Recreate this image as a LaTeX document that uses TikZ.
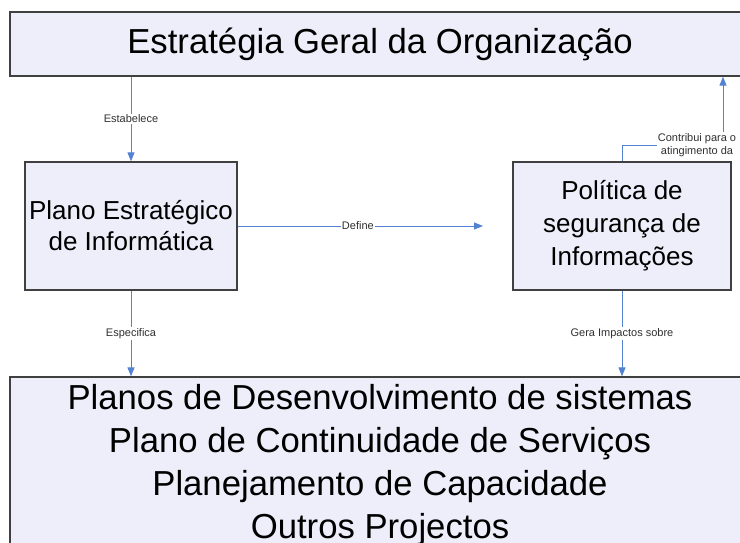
\documentclass[tikz,border=0pt]{standalone}
\usepackage{fontspec}
\setmainfont{Liberation Sans}
\usetikzlibrary{arrows.meta}
\definecolor{boxfill}{HTML}{EEEEFA}
\definecolor{boxline}{HTML}{404040}
\definecolor{arrblue}{HTML}{5382D2}
\definecolor{labgray}{HTML}{303030}
\begin{document}
\begin{tikzpicture}[x=1pt,y=-1pt,
  box/.style={draw=boxline,line width=1.3pt,fill=boxfill,align=center,inner sep=0pt},
  conn/.style={draw=arrblue,line width=0.9pt},
  arr/.style={conn,-{Triangle[length=9pt,width=7pt]}},
  lab/.style={font=\fontsize{11}{13.5}\selectfont,text=labgray,fill=white,inner sep=1pt,align=center}]
\useasboundingbox (0,0) rectangle (740,543);
\clip (0,0) rectangle (740,543);
\fill[white] (0,0) rectangle (740,543);
\node[box,minimum width=740pt,minimum height=64pt,font=\fontsize{34.7}{42}\selectfont] (top) at (380,44) {Estratégia Geral da Organização};
\node[box,minimum width=212pt,minimum height=128pt,font=\fontsize{26}{31}\selectfont] (left) at (131,226) {Plano Estratégico\\de Informática};
\node[box,minimum width=218pt,minimum height=128pt,font=\fontsize{26}{33}\selectfont] (right) at (622,226) {Política de\\segurança de\\Informações};
\node[box,minimum width=740pt,minimum height=176pt,font=\fontsize{34.7}{43}\selectfont] (bottom) at (380,465) {Planos de Desenvolvimento de sistemas\\Plano de Continuidade de Serviços\\Planejamento de Capacidade\\Outros Projectos};
\coordinate (defend) at (483,226);
\coordinate (cx) at (723,0);
\draw[arr] (left.north |- top.south) -- node[lab]{Estabelece} (left.north);
\draw[arr] (left.east) -- node[lab,pos=0.49]{Define} (defend);
\node[lab,fill=none] (contrib) at (697,145) {Contribui para o\\atingimento da};
\draw[conn] (right.north) |- (contrib.west);
\draw[arr] (contrib.north -| cx) -- (top.south -| cx);
\draw[arr] (left.south) -- node[lab]{Especifica} (left.south |- bottom.north);
\draw[arr] (right.south) -- node[lab]{Gera Impactos sobre} (right.south |- bottom.north);
\end{tikzpicture}
\end{document}
